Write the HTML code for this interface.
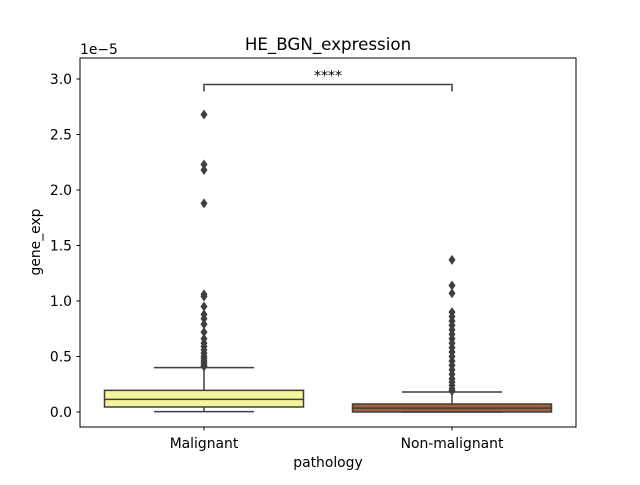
<!DOCTYPE html>
<html><head><meta charset="utf-8">
<style>
html,body{margin:0;padding:0;background:#fff;}
svg text{font-family:"DejaVu Sans","Liberation Sans",sans-serif;fill:#000;}
</style></head>
<body>
<svg id="chart" width="640" height="480" viewBox="0 0 640 480" xmlns="http://www.w3.org/2000/svg">
  <rect x="0" y="0" width="640" height="480" fill="#fff"/>
  <text x="328" y="50" font-size="16.7" text-anchor="middle">HE_BGN_expression</text>
  <text x="80" y="54" font-size="13.9">1e−5</text>
  <text x="328" y="467" font-size="13.9" text-anchor="middle">pathology</text>
  <text x="40" y="242" font-size="13.9" text-anchor="middle" transform="rotate(-90 40 242)">gene_exp</text>
  <g id="plot"></g>
  <rect x="80" y="58" width="496" height="369" fill="none" stroke="#000" stroke-width="1"/>
</svg>
<script>
const categories = ["Malignant", "Non-malignant"];
const q1Values = [0.045, 0.0];
const medianValues = [0.114, 0.035];
const q3Values = [0.195, 0.072];
const whiskerLow = [0.003, 0.0];
const whiskerHigh = [0.40, 0.18];
const outliersMalignant = [2.68,2.23,2.18,1.88,1.06,1.04,0.95,0.88,0.84,0.79,0.72,0.66,0.62,0.59,0.56,0.53,0.50,0.48,0.46,0.44,0.42,0.41];
const outliersNonMalignant = [1.37,1.14,1.07,0.90,0.86,0.82,0.78,0.74,0.70,0.66,0.62,0.58,0.54,0.50,0.46,0.42,0.38,0.34,0.30,0.27,0.24,0.21,0.19];
const yTicks = [0.0, 0.5, 1.0, 1.5, 2.0, 2.5, 3.0];
const yTickLabels = ["0.0","0.5","1.0","1.5","2.0","2.5","3.0"];
const fills = ["#f3f59f", "#a65f38"];
const sigLabel = "****";
const sigY = 2.95;

const NS = "http://www.w3.org/2000/svg";
const plot = document.getElementById("plot");
const yScale = v => 412 - v * 111;
const xScale = i => 204 + i * 248;
const halfW = 99.5, capHalf = 50;
const edge = "#3f3f3f";
function mk(tag, attrs){ const e=document.createElementNS(NS,tag); for(const k in attrs) e.setAttribute(k,attrs[k]); plot.appendChild(e); return e; }

yTicks.forEach((t,i)=>{
  const y=yScale(t);
  const tk=mk("line",{x1:76.5,x2:80,y1:y,y2:y,stroke:"#000"});
  
  
  const lb=mk("text",{x:72,y:y+5,"font-size":13.9,"text-anchor":"end"});
  lb.textContent=yTickLabels[i];
  
  
});

const outliers=[outliersMalignant,outliersNonMalignant];
categories.forEach((c,i)=>{
  const cx=xScale(i);
  const tk=mk("line",{x1:cx,x2:cx,y1:427,y2:430.5,stroke:"#000"});
  
  
  const lb=mk("text",{x:cx,y:448,"font-size":13.9,"text-anchor":"middle"});
  lb.textContent=c;
  
  
  const g=document.createElementNS(NS,"g"); plot.appendChild(g);
  
  
  const add=(tag,a)=>{const e=document.createElementNS(NS,tag);for(const k in a)e.setAttribute(k,a[k]);g.appendChild(e);return e;};
  const w1=add("line",{x1:cx,x2:cx,y1:yScale(q3Values[i]),y2:yScale(whiskerHigh[i]),stroke:edge,"stroke-width":1.5});
  
  const w2=add("line",{x1:cx,x2:cx,y1:yScale(q1Values[i]),y2:yScale(whiskerLow[i]),stroke:edge,"stroke-width":1.5});
  
  const c1=add("line",{x1:cx-capHalf,x2:cx+capHalf,y1:yScale(whiskerHigh[i]),y2:yScale(whiskerHigh[i]),stroke:edge,"stroke-width":1.5});
  
  const c2=add("line",{x1:cx-capHalf,x2:cx+capHalf,y1:yScale(whiskerLow[i]),y2:yScale(whiskerLow[i]),stroke:edge,"stroke-width":1.5});
  
  const top=yScale(q3Values[i]), bot=yScale(q1Values[i]);
  const b=add("rect",{x:cx-halfW,y:top,width:2*halfW,height:Math.max(bot-top,1),fill:fills[i],stroke:edge,"stroke-width":1.5});
  
  const m=add("line",{x1:cx-halfW,x2:cx+halfW,y1:yScale(medianValues[i]),y2:yScale(medianValues[i]),stroke:edge,"stroke-width":1.5});
  
  outliers[i].forEach(v=>{
    const y=yScale(v);
    const p=add("path",{d:`M${cx} ${y-5} L${cx+3.5} ${y} L${cx} ${y+5} L${cx-3.5} ${y} Z`,fill:edge});
    
  });
});

const by=yScale(sigY);
const br=mk("path",{d:`M${xScale(0)} ${by+7} L${xScale(0)} ${by} L${xScale(1)} ${by} L${xScale(1)} ${by+7}`,fill:"none",stroke:edge,"stroke-width":1.5});


const st=mk("text",{x:(xScale(0)+xScale(1))/2,y:by-4,"font-size":14,"text-anchor":"middle"});
st.textContent=sigLabel;


</script>
</body></html>
